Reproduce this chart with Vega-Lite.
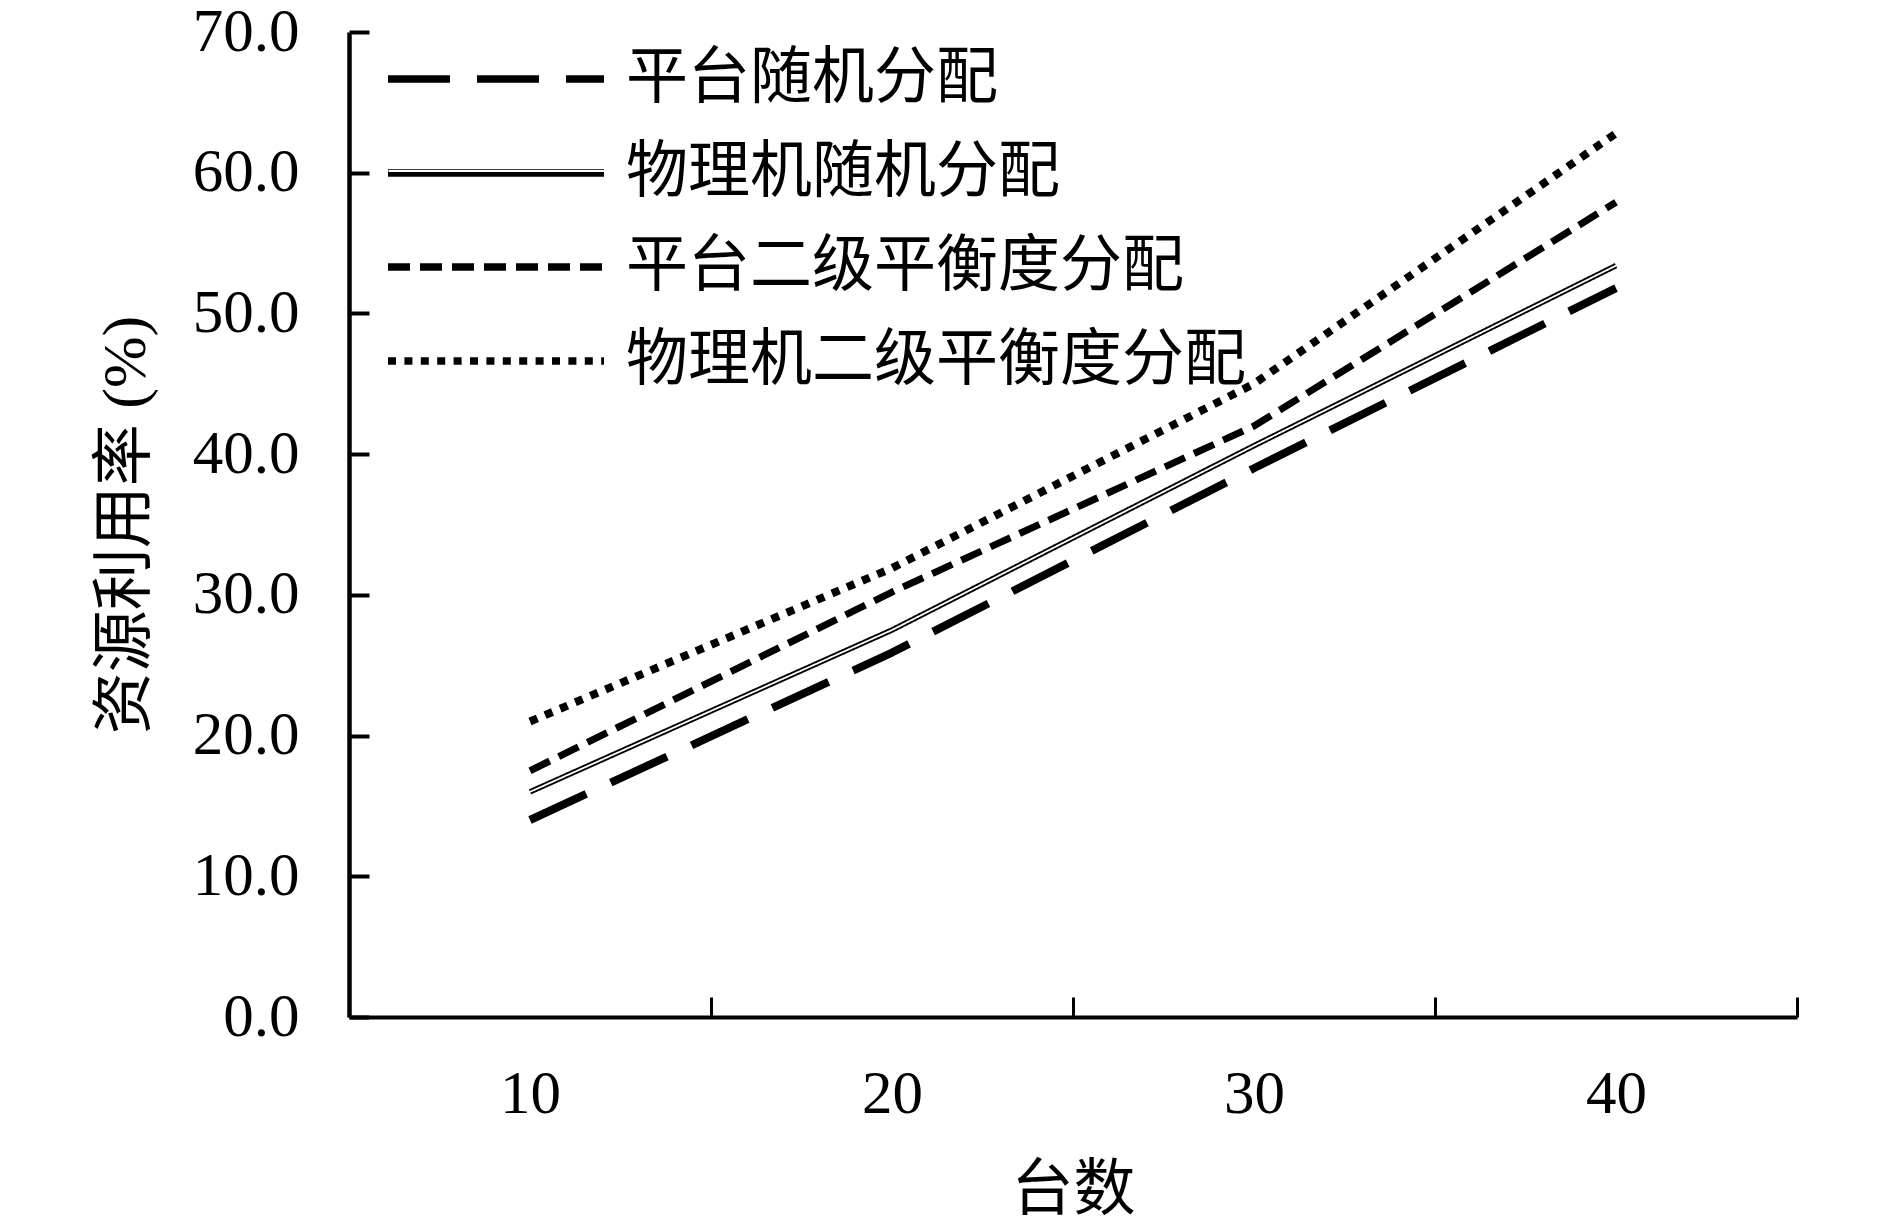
{
  "$schema": "https://vega.github.io/schema/vega-lite/v6.json",
  "width": 1448,
  "height": 985,
  "autosize": {"type": "none"},
  "padding": {"left": 349, "top": 32, "right": 93, "bottom": 204},
  "background": "white",
  "config": {
    "view": {"stroke": null},
    "font": "Liberation Serif, Noto Sans CJK SC"
  },
  "data": {
    "values": [
      {"n": 10, "s": "平台随机分配", "v": 14.0},
      {"n": 20, "s": "平台随机分配", "v": 25.9},
      {"n": 30, "s": "平台随机分配", "v": 39.0},
      {"n": 40, "s": "平台随机分配", "v": 51.8},
      {"n": 10, "s": "物理机随机分配", "v": 16.0},
      {"n": 20, "s": "物理机随机分配", "v": 27.5},
      {"n": 30, "s": "物理机随机分配", "v": 40.6},
      {"n": 40, "s": "物理机随机分配", "v": 53.4},
      {"n": 10, "s": "平台二级平衡度分配", "v": 17.5},
      {"n": 20, "s": "平台二级平衡度分配", "v": 30.2},
      {"n": 30, "s": "平台二级平衡度分配", "v": 42.0},
      {"n": 40, "s": "平台二级平衡度分配", "v": 57.9},
      {"n": 10, "s": "物理机二级平衡度分配", "v": 21.0},
      {"n": 20, "s": "物理机二级平衡度分配", "v": 31.9},
      {"n": 30, "s": "物理机二级平衡度分配", "v": 45.0},
      {"n": 40, "s": "物理机二级平衡度分配", "v": 62.8}
    ]
  },
  "encoding": {
    "x": {
      "field": "n",
      "type": "ordinal",
      "title": "台数",
      "scale": {"type": "band", "paddingInner": 0, "paddingOuter": 0},
      "axis": {
        "labelAngle": 0,
        "domainColor": "black",
        "domainWidth": 4,
        "tickColor": "black",
        "tickWidth": 3,
        "tickSize": -20,
        "tickBand": "extent",
        "grid": false,
        "labelPadding": 67,
        "labelFont": "Liberation Serif",
        "labelFontSize": 61,
        "labelColor": "black",
        "titleFont": "Liberation Serif, Noto Sans CJK SC",
        "titleFontSize": 62,
        "titleFontWeight": "normal",
        "titleColor": "black",
        "titlePadding": 36
      }
    },
    "y": {
      "field": "v",
      "type": "quantitative",
      "title": "资源利用率 (%)",
      "scale": {"domain": [0, 70], "nice": false},
      "axis": {
        "values": [0, 10, 20, 30, 40, 50, 60, 70],
        "format": ".1f",
        "domainColor": "black",
        "domainWidth": 4.5,
        "tickColor": "black",
        "tickWidth": 4,
        "tickSize": -20,
        "grid": false,
        "labelPadding": 70,
        "labelFont": "Liberation Serif",
        "labelFontSize": 61,
        "labelColor": "black",
        "titleFont": "Liberation Serif, Noto Sans CJK SC",
        "titleFontSize": 62,
        "titleFontWeight": "normal",
        "titleColor": "black",
        "titlePadding": 35
      }
    }
  },
  "layer": [
    {
      "mark": {"type": "line", "color": "black", "strokeCap": "butt", "strokeJoin": "round"},
      "encoding": {
        "strokeDash": {
          "field": "s",
          "type": "nominal",
          "scale": {
            "domain": ["平台随机分配", "物理机随机分配", "平台二级平衡度分配", "物理机二级平衡度分配"],
            "range": [[62, 27], [1, 0], [22, 10], [8, 8.4]]
          },
          "legend": {
            "title": null,
            "orient": "none",
            "legendX": 35,
            "legendY": 17,
            "zindex": 0,
            "padding": 0,
            "symbolType": "stroke",
            "symbolSize": 46656,
            "symbolStrokeWidth": 7.5,
            "symbolStrokeColor": "black",
            "clipHeight": 60,
            "rowPadding": 32,
            "labelOffset": 18,
            "labelFont": "Liberation Serif, Noto Sans CJK SC",
            "labelFontSize": 62,
            "labelColor": "black",
            "labelLimit": 1000
          }
        },
        "strokeWidth": {
          "field": "s",
          "type": "nominal",
          "scale": {
            "type": "ordinal",
            "domain": ["平台随机分配", "物理机随机分配", "平台二级平衡度分配", "物理机二级平衡度分配"],
            "range": [8, 5.5, 7, 8]
          },
          "legend": null
        }
      }
    },
    {
      "transform": [{"filter": "datum.s === '物理机随机分配'"}],
      "mark": {"type": "line", "color": "white", "strokeWidth": 1.8, "strokeCap": "butt"},
      "encoding": {
        "strokeDash": {
          "field": "s",
          "type": "nominal",
          "scale": {"domain": ["物理机随机分配"], "range": [[1, 0]]},
          "legend": {
            "title": null,
            "orient": "none",
            "legendX": 38,
            "legendY": 109,
            "zindex": 2,
            "padding": 0,
            "symbolType": "stroke",
            "symbolSize": 46656,
            "symbolStrokeColor": "white",
            "symbolStrokeWidth": 2.2,
            "clipHeight": 60,
            "labelOffset": 18,
            "labelFont": "Liberation Serif, Noto Sans CJK SC",
            "labelFontSize": 62,
            "labelColor": "transparent",
            "labelOpacity": 0,
            "labelLimit": 1000
          }
        }
      }
    }
  ],
  "resolve": {
    "scale": {"strokeDash": "independent"},
    "legend": {"strokeDash": "independent"}
  }
}
